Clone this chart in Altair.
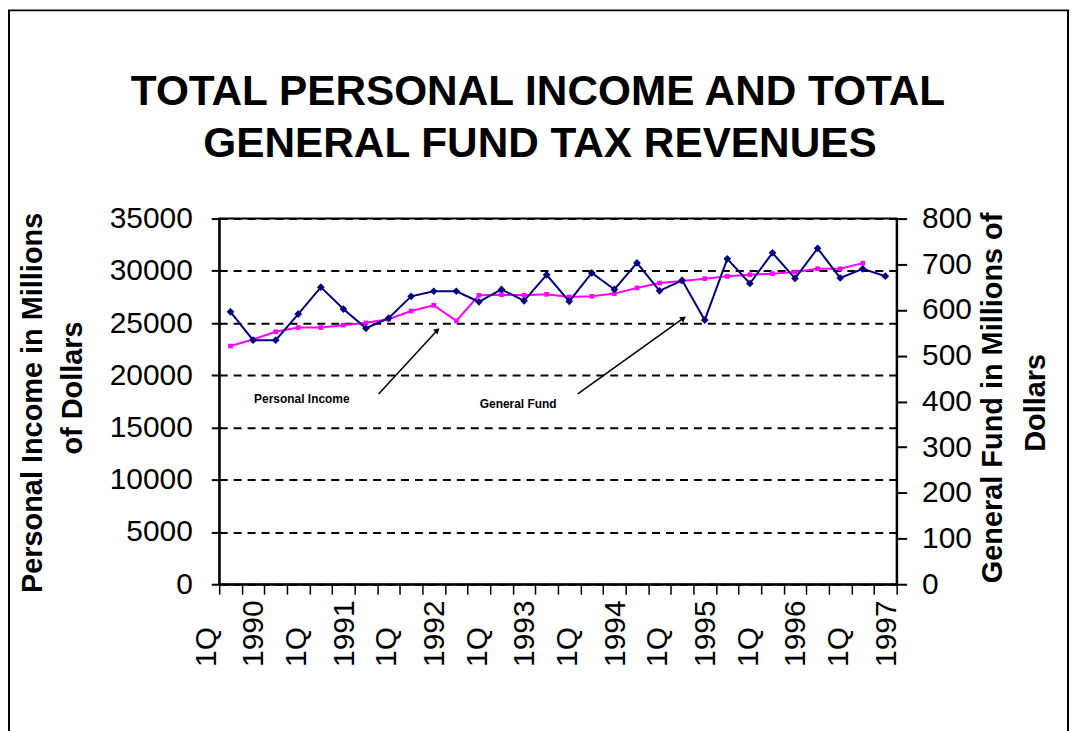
import altair as alt
import pandas as pd

# ---- data -------------------------------------------------------------
quarters = [f"{q}Q {y}" for y in range(1990, 1998) for q in range(1, 5)][:30]

personal_income = [22800, 23430, 24160, 24570, 24570, 24800, 25020, 25370,
                   26160, 26700, 25210, 27660, 27720, 27660, 27750, 27500,
                   27560, 27820, 28360, 28830, 29020, 29250, 29470, 29630,
                   29730, 29880, 30200, 30200, 30740, None]

general_fund = [596, 534, 534, 591, 650, 602, 560, 582, 630, 641,
                641, 618, 645, 620, 677, 619, 681, 645, 703, 642,
                665, 578, 712, 658, 725, 669, 735, 670, 690, 674]

annot_text = ["Personal Income", "General Fund"]
annot_x = [3.66, 13.24]          # in quarter-band units from the left edge
annot_y = [17738, 17262]         # in personal-income units
arrow_x0 = [7.06, 15.88]
arrow_y0 = [18215, 18215]
arrow_x1 = [9.66, 20.56]
arrow_y1 = [24319, 25463]
arrow_angle = [46, 53]

title_lines = ["TOTAL PERSONAL INCOME AND TOTAL", "GENERAL FUND TAX REVENUES"]
left_title = ["Personal Income in Millions", "of Dollars"]
right_title = ["General Fund in Millions of", "Dollars"]

FONT = "Liberation Sans"
W, H = 680, 367
N = len(quarters)
BW = W / N
LINE_GAP = 48 / 2 / BW           # half the spacing of the two label lines, in band units

pos = [i + 0.5 for i in range(N)]
df = pd.DataFrame({"quarter": quarters, "pos": pos,
                   "income": personal_income, "fund": general_fund})

# tick-label table (every 1st quarter)
lab_rows = []
for i, q in enumerate(quarters):
    qq, yy = q.split(" ")
    if qq == "1Q":
        lab_rows.append({"text": qq, "x": pos[i] - LINE_GAP})
        lab_rows.append({"text": yy, "x": pos[i] + LINE_GAP})
labels_df = pd.DataFrame(lab_rows)

ann = pd.DataFrame({"text": annot_text, "x": annot_x, "y": annot_y})
arr = pd.DataFrame({"x0": arrow_x0, "y0": arrow_y0, "x1": arrow_x1, "y1": arrow_y1,
                    "angle": arrow_angle})
one = pd.DataFrame({"a": [0]})

x_scale = alt.Scale(domain=[0, N], nice=False, zero=False)
y_left = alt.Scale(domain=[0, 35000], nice=False)

x_axis = alt.Axis(
    orient="bottom", title=None, values=list(range(0, N + 1)), labels=False,
    tickSize=10, domainColor="black", domainWidth=2,
    tickColor="black", tickWidth=1.5, grid=False,
)

left_axis = alt.Axis(
    orient="left", values=list(range(0, 35001, 5000)), title=None, format="d",
    labelFontSize=30, tickSize=8, labelPadding=19,
    grid=True, gridDash=[8, 6], gridColor="black", gridWidth=2,
    domainColor="black", domainWidth=2, tickColor="black", tickWidth=2,
)

right_axis = alt.Axis(
    orient="right", values=list(range(0, 801, 100)), title=None, format="d",
    labelFontSize=30, tickSize=10, labelPadding=15,
    grid=False, domainColor="black", domainWidth=2, tickColor="black", tickWidth=2,
)

income_line = alt.Chart(df).mark_line(
    color="#FF00FF", strokeWidth=2,
    point=alt.OverlayMarkDef(shape="square", size=22, filled=True, color="#FF00FF"),
).encode(
    x=alt.X("pos:Q", scale=x_scale, axis=x_axis),
    y=alt.Y("income:Q", scale=y_left, axis=left_axis),
)

fund_line = alt.Chart(df).mark_line(
    color="#000080", strokeWidth=2,
    point=alt.OverlayMarkDef(shape="diamond", size=60, filled=True, color="#000080"),
).encode(
    x=alt.X("pos:Q", scale=x_scale, axis=x_axis),
    y=alt.Y("fund:Q", scale=alt.Scale(domain=[0, 800], nice=False), axis=right_axis),
)

tick_labels = alt.Chart(labels_df).mark_text(
    font=FONT, fontSize=30, angle=270, align="left", baseline="middle", color="black",
).encode(
    x=alt.X("x:Q", scale=x_scale, axis=x_axis),
    y=alt.value(H + 83),
    text="text:N",
)

ann_text = alt.Chart(ann).mark_text(
    font=FONT, fontSize=12, fontWeight="bold", color="black", align="center", baseline="middle",
).encode(
    x=alt.X("x:Q", scale=x_scale, axis=x_axis),
    y=alt.Y("y:Q", scale=y_left, axis=None),
    text="text:N",
)

arrow_lines = alt.Chart(arr).mark_rule(color="black", strokeWidth=1.5).encode(
    x=alt.X("x0:Q", scale=x_scale, axis=x_axis), x2="x1:Q",
    y=alt.Y("y0:Q", scale=y_left, axis=None), y2="y1:Q",
)

arrow_heads = alt.Chart(arr).mark_point(
    shape="triangle-up", filled=True, color="black", size=45, opacity=1,
).encode(
    x=alt.X("x1:Q", scale=x_scale, axis=x_axis),
    y=alt.Y("y1:Q", scale=y_left, axis=None),
    angle=alt.Angle("angle:Q", scale=None),
)


def text_mark(txt, px, py, size, angle=0, weight="bold", baseline="middle"):
    return alt.Chart(one).mark_text(
        text=txt, font=FONT, fontSize=size, fontWeight=weight, angle=angle,
        align="center", baseline=baseline, color="black",
    ).encode(x=alt.value(px), y=alt.value(py))


titles = [
    text_mark(title_lines[0], 320, -114, 42.5, baseline="alphabetic"),
    text_mark(title_lines[1], 322, -62, 42.5, baseline="alphabetic"),
    text_mark(left_title[0], -187, 185, 29, angle=270),
    text_mark(left_title[1], -147, 170, 29, angle=270),
    text_mark(right_title[0], 777, 180, 29, angle=270),
    text_mark(right_title[1], 820, 185, 29, angle=270),
]

border = alt.Chart(one).mark_rect(filled=False, stroke="black", strokeWidth=2).encode(
    x=alt.value(-211), x2=alt.value(852), y=alt.value(-209), y2=alt.value(620),
)

chart = alt.layer(
    income_line, fund_line, tick_labels, ann_text, arrow_lines, arrow_heads,
    *titles, border,
).resolve_scale(
    y="independent"
).properties(
    width=W, height=H,
    autosize=alt.AutoSizeParams(type="none"),
    padding={"left": 212, "top": 210, "right": 175, "bottom": 160},
).configure_view(
    stroke="black", strokeWidth=2,
).configure_axis(
    labelFont=FONT, titleFont=FONT, labelColor="black", titleColor="black",
)

chart.save("out.html", embed_options={"renderer": "svg", "actions": False})
